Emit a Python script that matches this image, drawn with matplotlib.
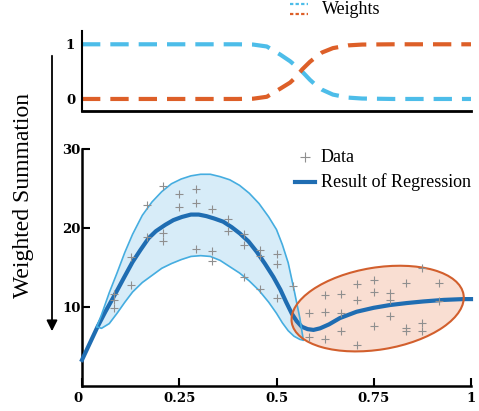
import matplotlib
matplotlib.use('Agg')
import matplotlib.pyplot as plt
import matplotlib.transforms as mtransforms
from matplotlib.patches import Ellipse

plt.rcParams['font.family'] = ['Liberation Serif', 'DejaVu Serif']

# weights (top panel)
w_x = [0, 0.1, 0.2, 0.3, 0.4, 0.44, 0.475, 0.51, 0.535, 0.55, 0.566, 0.586, 0.6,
       0.617, 0.645, 0.684, 0.72, 0.8, 0.9, 1.0]
w_blue = [1, 1, 1, 1, 1, 0.995, 0.96, 0.81, 0.69, 0.6, 0.5, 0.35, 0.26,
          0.17, 0.08, 0.025, 0.008, 0, 0, 0]
w_orange = [0, 0, 0, 0, 0, 0.005, 0.04, 0.19, 0.3, 0.4, 0.54, 0.68, 0.76,
            0.85, 0.93, 0.98, 0.995, 1, 1, 1]

# regression result
reg_x = [0, 0.02, 0.04, 0.06, 0.086, 0.11, 0.13, 0.15, 0.171, 0.19, 0.214, 0.235,
         0.257, 0.28, 0.3, 0.32, 0.34, 0.363, 0.385, 0.406, 0.428, 0.449, 0.47,
         0.492, 0.51, 0.525, 0.54, 0.552, 0.565, 0.58, 0.595, 0.612, 0.635, 0.663,
         0.706, 0.75, 0.792, 0.835, 0.877, 0.93, 0.98, 1.0]
reg_y = [3.3, 5.4, 7.5, 9.4, 11.7, 13.9, 15.7, 17.2, 18.7, 19.6, 20.4, 21.0,
         21.4, 21.7, 21.7, 21.5, 21.2, 20.8, 20.1, 19.3, 18.3, 17.0, 15.5,
         13.8, 12.2, 10.6, 9.1, 8.2, 7.5, 7.2, 7.1, 7.3, 7.8, 8.6,
         9.4, 9.9, 10.25, 10.5, 10.7, 10.9, 11.0, 11.0]

# confidence band of the first model
band_x = [0.038, 0.05, 0.07, 0.09, 0.11, 0.13, 0.155, 0.18, 0.205, 0.23, 0.255,
          0.28, 0.305, 0.33, 0.355, 0.38, 0.405, 0.43, 0.455, 0.48, 0.5, 0.515,
          0.53, 0.545, 0.56, 0.569]
band_up = [7.5, 9.0, 11.8, 14.3, 16.9, 19.2, 21.6, 23.3, 24.6, 25.6, 26.2,
           26.6, 26.8, 26.8, 26.5, 26.1, 25.4, 24.4, 23.1, 21.4, 19.8, 17.9,
           15.6, 12.2, 8.6, 5.8]
band_lo = [7.5, 7.3, 7.9, 9.2, 10.6, 11.9, 13.1, 14.0, 14.9, 15.5, 16.0,
           16.4, 16.5, 16.4, 15.9, 15.1, 14.3, 13.3, 12.1, 10.6, 9.2, 8.0,
           7.0, 6.3, 5.9, 5.8]

# data points
data_x = [0.083, 0.083, 0.083, 0.125, 0.125, 0.167, 0.167, 0.208, 0.208, 0.208,
          0.25, 0.25, 0.292, 0.292, 0.292, 0.333, 0.333, 0.333, 0.375, 0.375,
          0.417, 0.417, 0.417, 0.458, 0.458, 0.458, 0.5, 0.5, 0.5, 0.542,
          0.583, 0.583, 0.625, 0.625, 0.625, 0.667, 0.667, 0.667, 0.708, 0.708, 0.708,
          0.75, 0.75, 0.75, 0.792, 0.792, 0.792, 0.833, 0.833, 0.833,
          0.875, 0.875, 0.875, 0.917, 0.917]
data_y = [11.6, 10.9, 9.9, 16.3, 12.8, 22.9, 18.8, 25.3, 19.4, 18.3,
          24.3, 22.6, 24.9, 23.2, 17.3, 22.4, 17.1, 15.8, 21.1, 19.6,
          19.3, 17.8, 13.8, 17.2, 16.5, 12.3, 16.7, 15.5, 11.1, 12.7,
          9.2, 6.2, 11.5, 9.4, 5.9, 11.7, 9.2, 7.0, 12.9, 10.9, 5.2,
          13.4, 11.9, 7.6, 11.8, 10.9, 8.8, 13.1, 7.4, 6.9,
          14.9, 8.0, 6.9, 13.1, 10.8]

x_ticks = [0, 0.25, 0.5, 0.75, 1]
x_ticklabels = ['0', '0.25', '0.5', '0.75', '1']
y_ticks = [10, 20, 30]

c_wblue = '#4dbde9'
c_worange = '#dd5f28'
c_reg = '#1f6db2'
c_band = '#45ade0'
c_band_fill = '#d7ecf8'
c_ell = '#d25f2d'

W, H = 479, 411
fig = plt.figure(figsize=(W / 100, H / 100), dpi=100)
ax_w = fig.add_axes([82 / W, 1 - 111 / H, 389 / W, 80 / H])
ax = fig.add_axes([82 / W, 1 - 386 / H, 389 / W, 237 / H])

tick_font = dict(family='DejaVu Serif', weight='bold', size=9.5)

# ---- top panel: weights
ax_w.plot(w_x, w_blue, color=c_wblue, lw=3, dashes=(4.4, 2.4))
ax_w.plot(w_x, w_orange, color=c_worange, lw=3, dashes=(4.4, 2.4))
ax_w.set_xlim(0, 1)
ax_w.set_ylim(-0.22, 1.243)
ax_w.set_yticks([0, 1])
ax_w.set_yticklabels(['0', '1'], **tick_font)
ax_w.set_xticks([])
for s in ['top', 'right']:
    ax_w.spines[s].set_visible(False)
ax_w.spines['left'].set_linewidth(1.5)
ax_w.spines['bottom'].set_linewidth(2)
ax_w.tick_params(axis='y', direction='in', length=6, width=1.5, pad=5)

# ---- bottom panel: regression
ax.fill_between(band_x, band_lo, band_up, color=c_band_fill, lw=0, zorder=1)

# region of the second model (fill under the curve, outline on top)
trans = fig.dpi_scale_trans + mtransforms.ScaledTranslation(0.76, 9.8, ax.transData)
ax.add_patch(Ellipse((0, 0), 1.74, 0.82, angle=9.3, transform=trans,
                     facecolor=(0.93, 0.58, 0.42, 0.3), edgecolor='none', zorder=2))
ax.add_patch(Ellipse((0, 0), 1.74, 0.82, angle=9.3, transform=trans,
                     facecolor='none', edgecolor=c_ell, lw=1.5, zorder=5))

ax.plot(band_x, band_up, color=c_band, lw=1.2, zorder=4)
ax.plot(band_x, band_lo, color=c_band, lw=1.2, zorder=4)
ax.plot(reg_x, reg_y, color=c_reg, lw=3, zorder=3, clip_on=False)

ax.plot(data_x, data_y, '+', color='#8f8f8f', ms=6, mew=0.8, zorder=6)

ax.set_xlim(0, 1)
ax.set_ylim(0, 30)
ax.set_xticks(x_ticks)
ax.set_xticklabels(x_ticklabels, **tick_font)
ax.get_xticklabels()[0].set_horizontalalignment('right')
ax.set_yticks(y_ticks)
ax.set_yticklabels([str(v) for v in y_ticks], **tick_font)
for s in ['top', 'right']:
    ax.spines[s].set_visible(False)
for s in ['left', 'bottom']:
    ax.spines[s].set_linewidth(1.8)
ax.tick_params(direction='in', length=6, width=1.5)
ax.tick_params(axis='y', pad=1)
ax.tick_params(axis='x', pad=4)

# legend of the bottom panel, drawn by hand
ax.plot([0.573], [0.966], '+', color='#8f8f8f', ms=7, mew=0.8, transform=ax.transAxes, clip_on=False)
ax.text(0.614, 0.966, 'Data', transform=ax.transAxes, va='center', fontsize=13)
ax.plot([0.548, 0.599], [0.862, 0.862], color=c_reg, lw=3, transform=ax.transAxes, clip_on=False)
ax.text(0.614, 0.862, 'Result of Regression', transform=ax.transAxes, va='center', fontsize=13)

# legend of the weights
fig.lines.append(plt.Line2D([290 / W, 308 / W], [1 - 4 / H, 1 - 4 / H], transform=fig.transFigure,
                            color=c_wblue, lw=1.6, dashes=(1.5, 1.0)))
fig.lines.append(plt.Line2D([290 / W, 308 / W], [1 - 14 / H, 1 - 14 / H], transform=fig.transFigure,
                            color=c_worange, lw=1.6, dashes=(1.5, 1.0)))
fig.text(322 / W, 1 - 10 / H, 'Weights', va='center', fontsize=13)

# y label with arrow
fig.text(24 / W, 1 - 196 / H, 'Weighted Summation', rotation=90, ha='center', va='center', fontsize=17)
ax.annotate('', xy=(52, H - 334), xytext=(52, H - 53), xycoords='figure pixels',
            textcoords='figure pixels',
            arrowprops=dict(arrowstyle='-|>', lw=1.3, color='black', mutation_scale=16))

fig.savefig('out.png', dpi=100)
